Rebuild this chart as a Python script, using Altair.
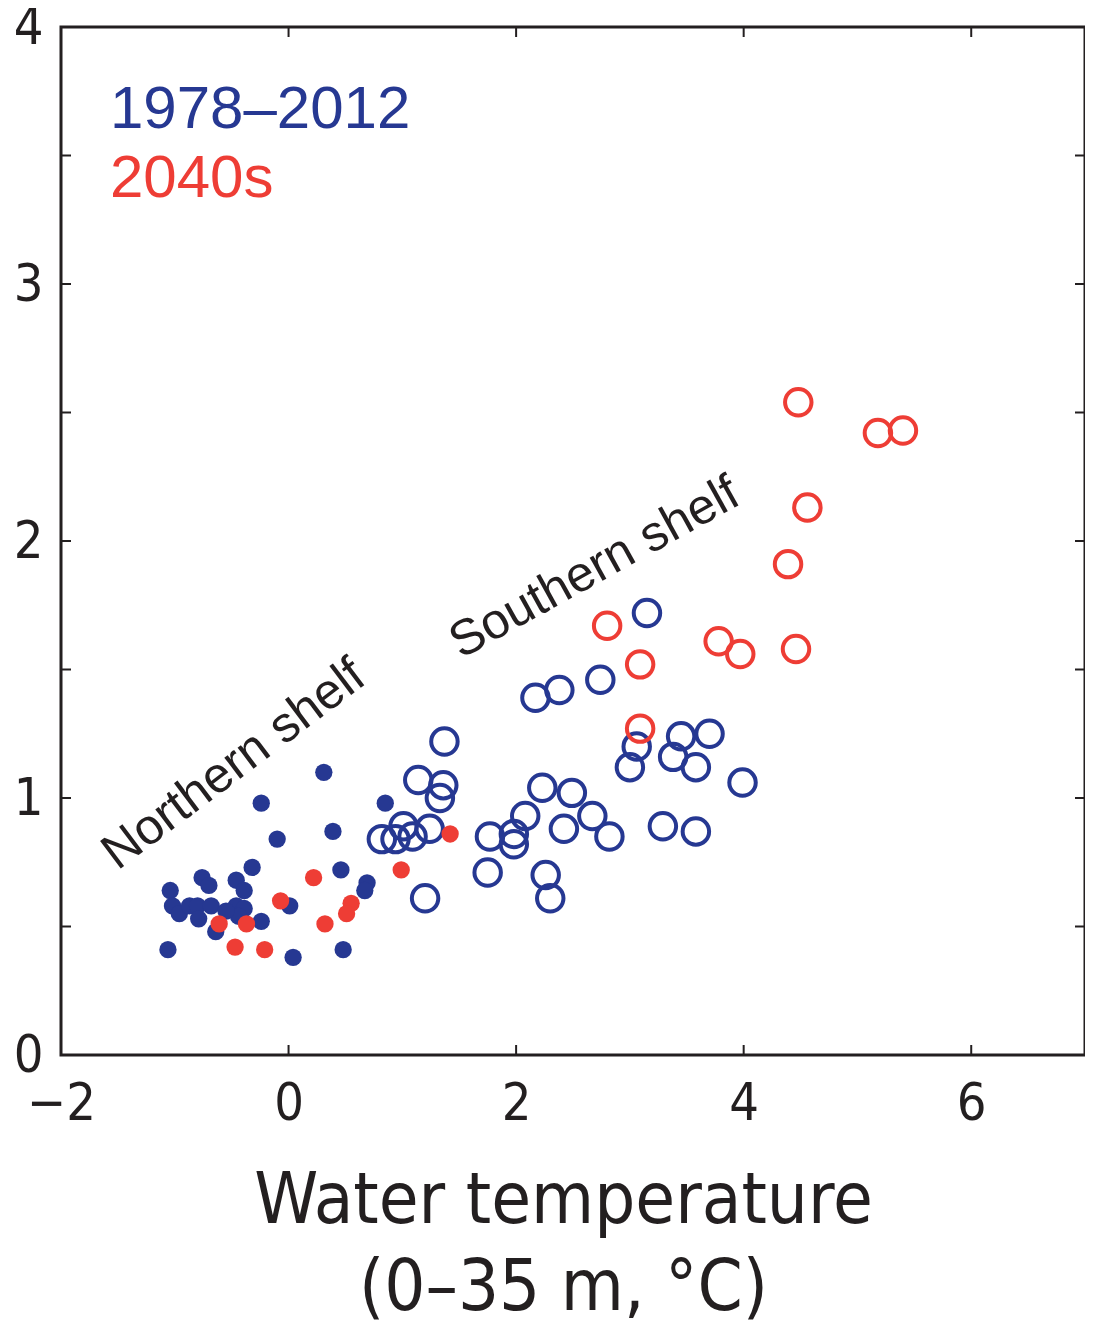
import altair as alt
import pandas as pd

# ---- data ----
# Northern shelf, 1978-2012 (filled blue)
nb_x = [0.31, -0.24, 0.85, -0.10, 0.39, -0.32, -0.76, -0.70, -0.46, -0.39, -1.04, 0.46, 0.69, 0.67,
        0.01, -1.02, -0.96, -0.87, -0.80, -0.68, -0.79, -0.46, -0.39, -0.44, -0.55, -0.24, -0.64,
        -1.06, 0.04, 0.48]
nb_y = [1.10, 0.98, 0.98, 0.84, 0.87, 0.73, 0.69, 0.66, 0.68, 0.64, 0.64, 0.72, 0.67, 0.64,
        0.58, 0.58, 0.55, 0.58, 0.58, 0.58, 0.53, 0.58, 0.57, 0.54, 0.56, 0.52, 0.48,
        0.41, 0.38, 0.41]
# Northern shelf, 2040s (filled red)
nr_x = [1.42, 0.22, 0.99, -0.07, 0.55, 0.51, -0.61, -0.37, 0.32, -0.47, -0.21]
nr_y = [0.86, 0.69, 0.72, 0.60, 0.59, 0.55, 0.51, 0.51, 0.51, 0.42, 0.41]
# Southern shelf, 1978-2012 (open blue)
sb_x = [1.37, 1.14, 1.36, 1.33, 3.15, 2.74, 2.38, 2.17, 3.06, 3.00, 3.45, 3.70, 3.38, 3.58, 3.99,
        0.82, 0.94, 1.01, 1.09, 1.24, 1.77, 1.98, 1.98, 2.08, 2.23, 2.49, 2.42, 2.67, 2.82, 3.29,
        3.58, 1.75, 2.26, 2.30, 1.20]
sb_y = [1.22, 1.07, 1.05, 1.00, 1.72, 1.46, 1.42, 1.39, 1.20, 1.12, 1.24, 1.25, 1.16, 1.12, 1.06,
        0.84, 0.84, 0.89, 0.85, 0.88, 0.85, 0.86, 0.82, 0.93, 1.04, 1.02, 0.88, 0.93, 0.85, 0.89,
        0.87, 0.71, 0.70, 0.61, 0.61]
# Southern shelf, 2040s (open red)
sr_x = [4.48, 5.18, 5.40, 4.56, 4.39, 2.80, 3.09, 3.78, 3.97, 4.46, 3.09]
sr_y = [2.54, 2.42, 2.43, 2.13, 1.91, 1.67, 1.52, 1.61, 1.56, 1.58, 1.27]

x_ticks = [0, 2, 4, 6]
y_ticks = [0.5, 1.0, 1.5, 2.0, 2.5, 3.0, 3.5]
x_labels = [-2, 0, 2, 4, 6]
y_labels = [0, 1, 2, 3, 4]

ann_text = ["Northern shelf", "Southern shelf"]
ann_x = [-0.48, 2.69]
ann_y = [1.13, 1.895]

BLUE = "#263892"
RED = "#ee3d35"
INK = "#231f20"
W, H = 1024, 1028
NARROW = "Liberation Sans Narrow, DejaVu Sans Condensed, sans-serif"

xscale = alt.Scale(domain=[-2, 7], nice=False, zero=False)
yscale = alt.Scale(domain=[0, 4], nice=False, zero=False)

x_axis = alt.Axis(values=x_labels, format="d", ticks=False, tickSize=0, domain=False, grid=False,
                  labelFont=NARROW, labelFontSize=52, labelColor=INK, labelPadding=23,
                  labelFlush=False, labelOverlap=False,
                  title=["Water temperature", "(0–35 m, °C)"],
                  titleFont=NARROW, titleFontSize=72, titleFontWeight="normal", titleColor=INK,
                  titleLineHeight=87, titleX=502, titleY=167, titleBaseline="alphabetic",
                  titleAlign="center")
y_axis = alt.Axis(values=y_labels, format="d", ticks=False, tickSize=0, domain=False, grid=False,
                  labelFont=NARROW, labelFontSize=52, labelColor=INK, labelPadding=18,
                  labelFlush=False, labelOverlap=False, title=None)

nb = pd.DataFrame({"x": nb_x, "y": nb_y})
nr = pd.DataFrame({"x": nr_x, "y": nr_y})
sb = pd.DataFrame({"x": sb_x, "y": sb_y})
sr = pd.DataFrame({"x": sr_x, "y": sr_y})

base_enc = dict(x=alt.X("x:Q", scale=xscale, axis=x_axis),
                y=alt.Y("y:Q", scale=yscale, axis=y_axis))

l_nb = alt.Chart(nb).mark_circle(size=300, color=BLUE, opacity=1).encode(**base_enc)
l_sb = alt.Chart(sb).mark_point(shape="circle", filled=False, size=700, strokeWidth=4,
                                color=BLUE, opacity=1).encode(x="x:Q", y="y:Q")
l_nr = alt.Chart(nr).mark_circle(size=300, color=RED, opacity=1).encode(x="x:Q", y="y:Q")
l_sr = alt.Chart(sr).mark_point(shape="circle", filled=False, size=700, strokeWidth=4,
                                color=RED, opacity=1).encode(x="x:Q", y="y:Q")

ann = pd.DataFrame({"t": ann_text, "x": ann_x, "y": ann_y, "a": [323, 331]})
l_ann = alt.Chart(ann).mark_text(font="Liberation Sans", fontSize=50, color=INK,
                                 align="center", baseline="middle").encode(
    x="x:Q", y="y:Q", text="t:N", angle=alt.Angle("a:Q", scale=None))

leg1 = alt.Chart(pd.DataFrame({"t": ["1978–2012"]})).mark_text(
    font="Liberation Sans", fontSize=60, color=BLUE, align="left", baseline="alphabetic"
).encode(x=alt.value(49), y=alt.value(101), text="t:N")
leg2 = alt.Chart(pd.DataFrame({"t": ["2040s"]})).mark_text(
    font="Liberation Sans", fontSize=60, color=RED, align="left", baseline="alphabetic"
).encode(x=alt.value(49), y=alt.value(170), text="t:N")

xt = pd.DataFrame({"v": x_ticks})
yt = pd.DataFrame({"v": y_ticks})
TL = 10
tick_style = dict(color=INK, strokeWidth=2)
t_bottom = alt.Chart(xt).mark_rule(**tick_style).encode(
    x="v:Q", y=alt.value(H), y2=alt.value(H - TL))
t_top = alt.Chart(xt).mark_rule(**tick_style).encode(
    x="v:Q", y=alt.value(0), y2=alt.value(TL))
t_left = alt.Chart(yt).mark_rule(**tick_style).encode(
    y="v:Q", x=alt.value(0), x2=alt.value(TL))
t_right = alt.Chart(yt).mark_rule(**tick_style).encode(
    y="v:Q", x=alt.value(W), x2=alt.value(W - TL))

chart = alt.layer(l_nb, l_sb, l_nr, l_sr, l_ann, leg1, leg2,
                  t_bottom, t_top, t_left, t_right).properties(
    width=W, height=H,
    autosize=alt.AutoSizeParams(type="none"),
    padding={"left": 53, "top": 19, "right": 0, "bottom": 268},
    background="white",
).configure_view(stroke=INK, strokeWidth=3)

chart.save("out.html", embed_options={"renderer": "svg", "actions": False})
